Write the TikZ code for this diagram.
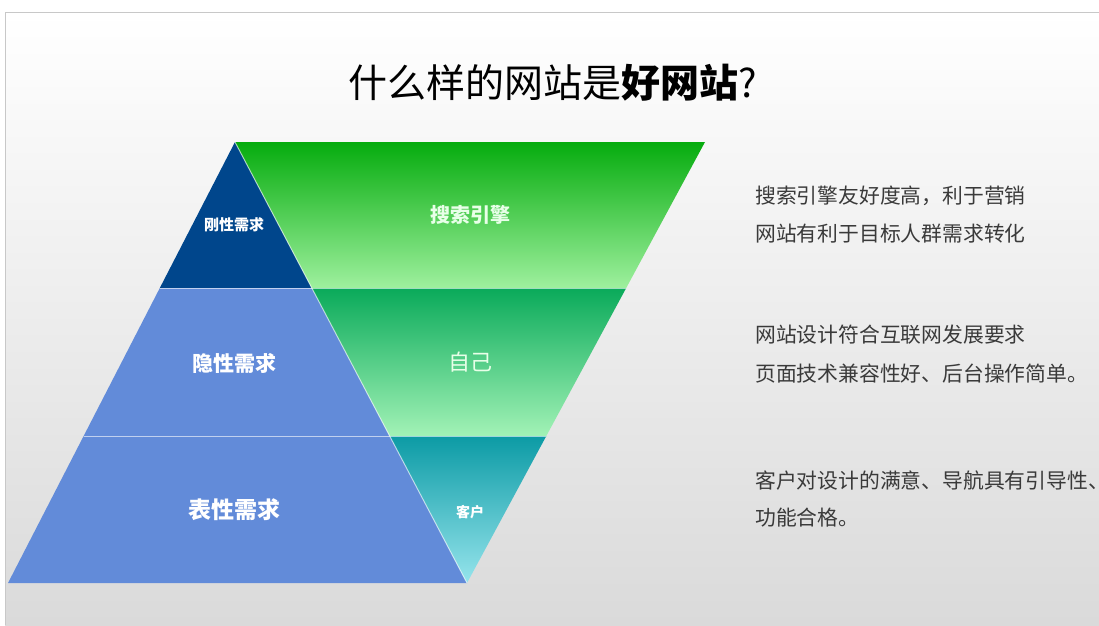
\documentclass[tikz,border=0pt]{standalone}
\usepackage{fontspec}
\setmainfont{Noto Sans CJK SC}
\definecolor{bggray}{RGB}{218,218,218}
\definecolor{bgmid}{RGB}{243,243,243}
\definecolor{bordergray}{RGB}{200,200,200}
\definecolor{darkblue}{RGB}{0,70,140}
\definecolor{midblue}{RGB}{98,139,217}
\definecolor{gAt}{RGB}{6,172,14}
\definecolor{gAm}{RGB}{120,226,120}
\definecolor{gAb}{RGB}{158,240,158}
\definecolor{gBt}{RGB}{10,170,90}
\definecolor{gBm}{RGB}{120,224,150}
\definecolor{gBb}{RGB}{162,242,182}
\definecolor{gCt}{RGB}{12,155,165}
\definecolor{gCm}{RGB}{90,200,210}
\definecolor{gCb}{RGB}{150,228,236}
\definecolor{paletext}{RGB}{232,255,232}
\definecolor{bodytext}{RGB}{58,58,58}
\begin{document}
\begin{tikzpicture}[x=1pt,y=-1pt,
  sep/.style={draw=white,line width=1pt,opacity=0.6},
  tierlabel/.style={text=white,font=\bfseries,inner sep=0pt},
  greenlabel/.style={text=paletext,inner sep=0pt},
  note/.style={anchor=west,text=bodytext,inner sep=0pt,font=\fontsize{20.8}{24}\selectfont}]
\clip (0,0) rectangle (1099,625);
\fill[white] (0,0) rectangle (1099,625);
\shade[top color=white, middle color=bgmid, bottom color=bggray] (5,12) rectangle (1099,625);
\draw[bordergray,line width=1pt] (5,625) -- (5,12) -- (1099,12);

\coordinate (A) at (235,142);
\coordinate (B) at (705,142);
\coordinate (C) at (467,583);
\coordinate (D) at (8,583);
\coordinate (L1) at (159.8,288);
\coordinate (M1) at (311.8,288);
\coordinate (R1) at (626.2,288);
\coordinate (L2) at (83.7,436);
\coordinate (M2) at (389.7,436);
\coordinate (R2) at (546.3,436);

\fill[darkblue] (A) -- (M1) -- (L1) -- cycle;
\fill[midblue] (L1) -- (M1) -- (C) -- (D) -- cycle;
\shade[top color=gAt,middle color=gAm,bottom color=gAb] (A) -- (B) -- (R1) -- (M1) -- cycle;
\shade[top color=gBt,middle color=gBm,bottom color=gBb] (M1) -- (R1) -- (R2) -- (M2) -- cycle;
\shade[top color=gCt,middle color=gCm,bottom color=gCb] (M2) -- (R2) -- (C) -- cycle;
\draw[sep] (L1) -- (R1);
\draw[sep] (L2) -- (R2);
\draw[sep] (A) -- (C);

\node[inner sep=0pt,text=black,font=\fontsize{39}{44}\selectfont] (title) at (553,83) {什么样的网站是\textbf{好网站}?};

\node[tierlabel,font=\bfseries\fontsize{15}{18}\selectfont] (rigid) at (234,225) {刚性需求};
\node[tierlabel,font=\bfseries\fontsize{21}{24}\selectfont] (hidden) at (234,363) {隐性需求};
\node[tierlabel,font=\bfseries\fontsize{23}{26}\selectfont] (surface) at (234,510) {表性需求};

\node[greenlabel,font=\bfseries\fontsize{20}{24}\selectfont] (search) at (470,215) {搜索引擎};
\node[greenlabel,font=\fontsize{22}{26}\selectfont] (self) at (470,362) {自己};
\node[greenlabel,text=white,font=\bfseries\fontsize{14}{18}\selectfont] (client) at (470,512) {客户};

\node[note] (n1) at (755,196) {搜索引擎友好度高，利于营销};
\node[note] (n2) at (755,234) {网站有利于目标人群需求转化};
\node[note] (n3) at (755,335) {网站设计符合互联网发展要求};
\node[note] (n4) at (755,374) {页面技术兼容性好、后台操作简单。};
\node[note] (n5) at (755,481) {客户对设计的满意、导航具有引导性、};
\node[note] (n6) at (755,518) {功能合格。};
\end{tikzpicture}
\end{document}
